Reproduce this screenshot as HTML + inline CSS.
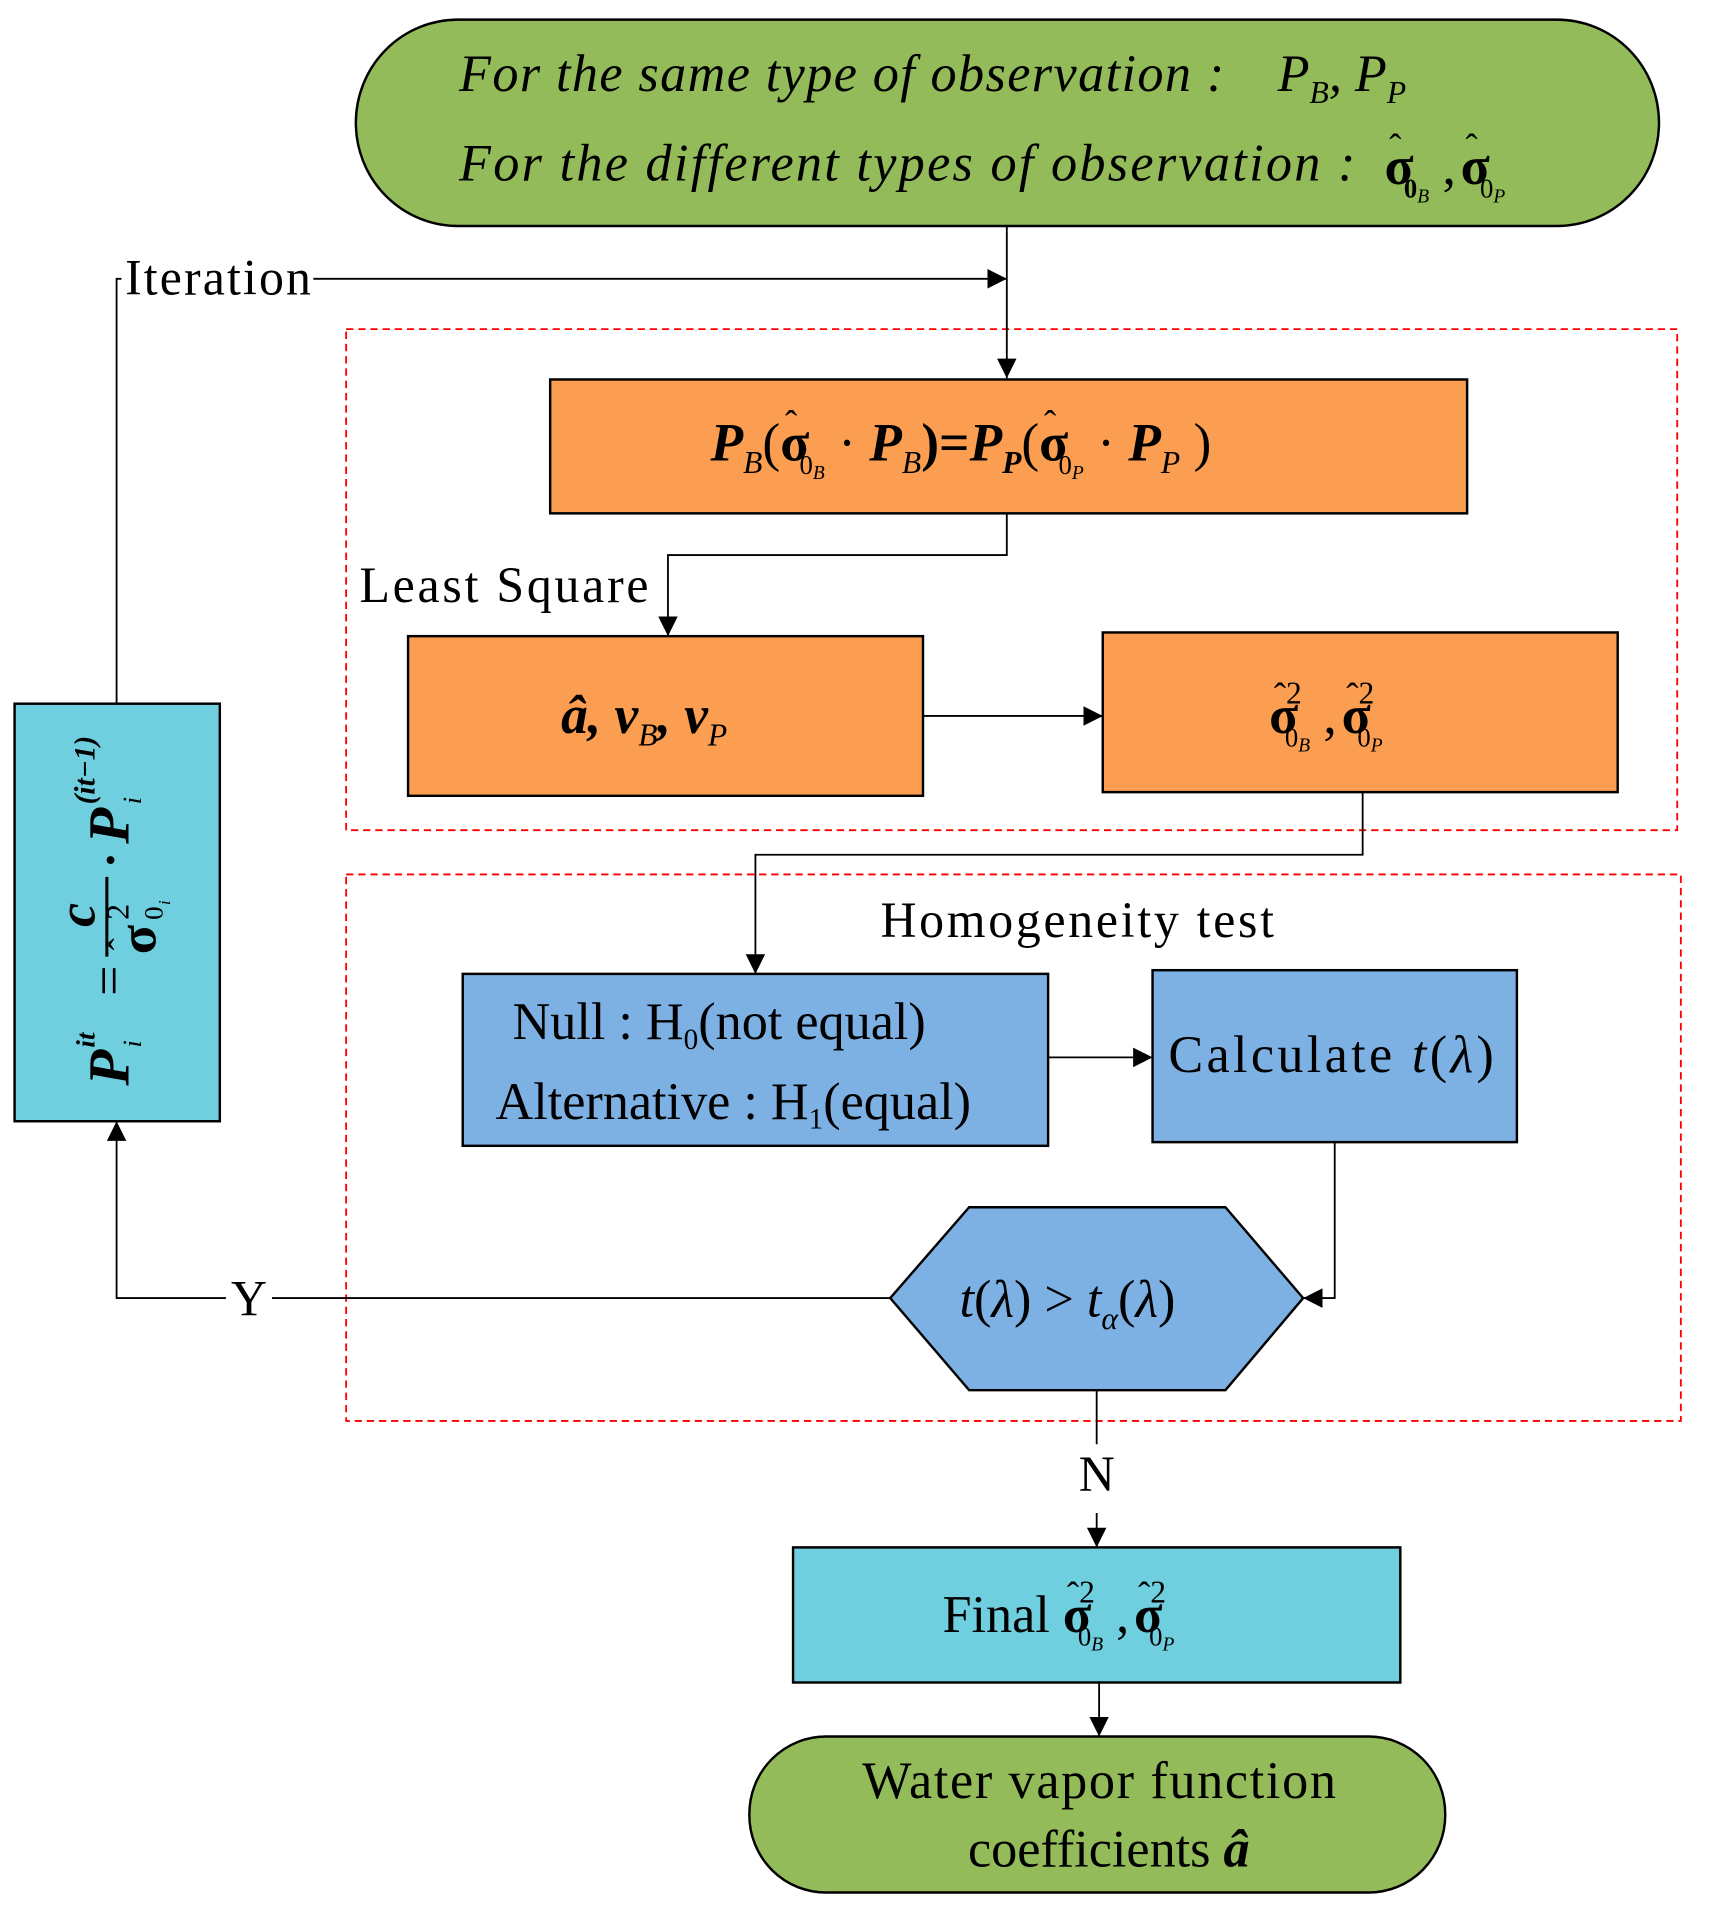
<!DOCTYPE html>
<html><head><meta charset="utf-8"><style>
html,body{margin:0;padding:0;background:#fff}
svg{display:block}
text{font-family:"Liberation Serif","DejaVu Serif",serif;fill:#000}
.it{font-style:italic}.b{font-weight:bold}
</style></head><body>
<svg width="1710" height="1906" viewBox="0 0 1408 1552" preserveAspectRatio="none" xmlns="http://www.w3.org/2000/svg">
<defs>
<marker id="a" viewBox="0 0 10 10" refX="10" refY="5" markerWidth="16" markerHeight="16" markerUnits="userSpaceOnUse" orient="auto"><path d="M0,0L10,5L0,10z" fill="#000"/></marker>
</defs>
<rect x="285" y="268" width="1096" height="408" fill="none" stroke="#f00" stroke-width="1.5" stroke-dasharray="6,4"/>
<rect x="285" y="712" width="1099" height="445" fill="none" stroke="#f00" stroke-width="1.5" stroke-dasharray="6,4"/>

<rect x="293" y="16" width="1073" height="168" rx="84" fill="#93bb59" stroke="#000" stroke-width="2"/>
<text class="it" x="378" y="74" font-size="43" textLength="630">For the same type of observation :</text>
<text class="it" x="1052" y="74" font-size="43">P<tspan font-size="26" dy="10">B</tspan><tspan dy="-10">, P</tspan><tspan font-size="26" dy="10">P</tspan></text>
<text class="it" x="378" y="147" font-size="43" textLength="738">For the different types of observation :</text>
<text x="1140" y="150" font-size="44" font-weight="bold">σ<tspan dx="-20" dy="-20" font-size="30" font-weight="normal">ˆ</tspan><tspan font-size="22" dx="2" dy="31">0</tspan><tspan font-size="16" font-style="italic" font-weight="normal" dy="4">B</tspan><tspan font-weight="normal" dy="-15"> ,</tspan><tspan dx="4">σ</tspan><tspan dx="-20" dy="-20" font-size="30" font-weight="normal">ˆ</tspan><tspan font-size="22" font-weight="normal" dx="2" dy="31">0</tspan><tspan font-size="16" font-style="italic" font-weight="normal" dy="4">P</tspan></text>

<line x1="829" y1="184" x2="829" y2="308" stroke="#000" stroke-width="1.5" marker-end="url(#a)"/>
<polyline points="100,227 96,227 96,573" fill="none" stroke="#000" stroke-width="1.5"/>
<line x1="258" y1="227" x2="829" y2="227" stroke="#000" stroke-width="1.5" marker-end="url(#a)"/>
<text x="103" y="240" font-size="41" textLength="153">Iteration</text>

<rect x="453" y="309" width="755" height="109" fill="#fb9e51" stroke="#000" stroke-width="2"/>
<text class="it b" x="585" y="375" font-size="44">P<tspan font-size="26" font-weight="normal" dy="10">B</tspan><tspan font-style="normal" font-weight="normal" dy="-10">(</tspan><tspan font-style="normal">σ</tspan><tspan dx="-20" dy="-20" font-size="30" font-style="normal" font-weight="normal">ˆ</tspan><tspan font-size="22" font-style="normal" font-weight="normal" dx="2" dy="31">0</tspan><tspan font-size="16" font-weight="normal" dy="4">B</tspan><tspan font-weight="normal" font-style="normal" dy="-15">  · </tspan>P<tspan font-size="26" font-weight="normal" dy="10">B</tspan><tspan font-style="normal" dy="-10">)=</tspan>P<tspan font-size="26" dy="10">P</tspan><tspan font-style="normal" font-weight="normal" dy="-10">(</tspan><tspan font-style="normal">σ</tspan><tspan dx="-20" dy="-20" font-size="30" font-style="normal" font-weight="normal">ˆ</tspan><tspan font-size="22" font-style="normal" font-weight="normal" dx="2" dy="31">0</tspan><tspan font-size="16" font-weight="normal" dy="4">P</tspan><tspan font-weight="normal" font-style="normal" dy="-15">  · </tspan>P<tspan font-size="26" font-weight="normal" dy="10">P</tspan><tspan font-style="normal" font-weight="normal" dy="-10"> )</tspan></text>

<polyline points="829,418 829,452 550,452 550,518" fill="none" stroke="#000" stroke-width="1.5" marker-end="url(#a)"/>
<text x="296" y="490" font-size="41" textLength="238">Least Square</text>

<rect x="336" y="518" width="424" height="130" fill="#fb9e51" stroke="#000" stroke-width="2"/>
<text class="it b" x="462" y="597" font-size="44">â, v<tspan font-size="26" font-weight="normal" dy="10">B</tspan><tspan dy="-10">, v</tspan><tspan font-size="26" font-weight="normal" dy="10">P</tspan></text>
<rect x="908" y="515" width="424" height="130" fill="#fb9e51" stroke="#000" stroke-width="2"/>
<text x="1045" y="597" font-size="44" font-weight="bold">σ<tspan dx="-20" dy="-20" font-size="30" font-weight="normal">ˆ</tspan><tspan font-size="26" font-weight="normal" dx="0" dy="-4">2</tspan><tspan font-size="22" font-weight="normal" dx="-14" dy="35">0</tspan><tspan font-size="16" font-style="italic" font-weight="normal" dy="4">B</tspan><tspan font-weight="normal" dy="-15"> ,</tspan><tspan dx="4">σ</tspan><tspan dx="-20" dy="-20" font-size="30" font-weight="normal">ˆ</tspan><tspan font-size="26" font-weight="normal" dy="-4">2</tspan><tspan font-size="22" font-weight="normal" dx="-14" dy="35">0</tspan><tspan font-size="16" font-style="italic" font-weight="normal" dy="4">P</tspan></text>
<line x1="760" y1="583" x2="908" y2="583" stroke="#000" stroke-width="1.5" marker-end="url(#a)"/>

<polyline points="1122,645 1122,696 622,696 622,793" fill="none" stroke="#000" stroke-width="1.5" marker-end="url(#a)"/>
<text x="887" y="763" font-size="41" text-anchor="middle" textLength="324">Homogeneity test</text>

<rect x="381" y="793" width="482" height="140" fill="#7eb1e3" stroke="#000" stroke-width="2"/>
<text x="422" y="846" font-size="43">Null : H<tspan font-size="24" dy="8">0</tspan><tspan dy="-8">(not equal)</tspan></text>
<text x="408" y="911" font-size="43">Alternative : H<tspan font-size="24" dy="8">1</tspan><tspan dy="-8">(equal)</tspan></text>
<line x1="863" y1="861" x2="949" y2="861" stroke="#000" stroke-width="1.5" marker-end="url(#a)"/>
<rect x="949" y="790" width="300" height="140" fill="#7eb1e3" stroke="#000" stroke-width="2"/>
<text x="962" y="873" font-size="43" textLength="268">Calculate <tspan font-style="italic">t</tspan>(<tspan font-style="italic">λ</tspan>)</text>

<polyline points="1099,930 1099,1057 1073,1057" fill="none" stroke="#000" stroke-width="1.5" marker-end="url(#a)"/>
<polygon points="733,1057 798,983 1009,983 1073,1057 1009,1132 798,1132" fill="#7eb1e3" stroke="#000" stroke-width="2"/>
<text x="790" y="1072" font-size="43"><tspan font-style="italic">t</tspan>(<tspan font-style="italic">λ</tspan>) &gt; <tspan font-style="italic">t</tspan><tspan font-size="26" font-style="italic" dy="10">α</tspan><tspan dy="-10">(</tspan><tspan font-style="italic">λ</tspan>)</text>

<polyline points="733,1057 96,1057 96,913" fill="none" stroke="#000" stroke-width="1.5" marker-end="url(#a)"/>
<rect x="186" y="1036" width="38" height="40" fill="#fff"/>
<text x="205" y="1071" font-size="41" text-anchor="middle">Y</text>

<rect x="12" y="573" width="169" height="340" fill="#70cfdf" stroke="#000" stroke-width="2"/>
<g transform="translate(96,743) rotate(-90)">
<text x="-141" y="10" font-size="48" font-weight="bold" font-style="italic">P</text>
<text x="-110" y="-18" font-size="22" font-weight="bold" font-style="italic">it</text>
<text x="-110" y="20" font-size="22" font-style="italic">i</text>
<text x="-68" y="8" font-size="44">=</text>
<text x="-2" y="-18" font-size="44" font-style="italic" font-weight="bold" text-anchor="middle">c</text>
<line x1="-36" y1="-8" x2="29" y2="-8" stroke="#000" stroke-width="2.5"/>
<text x="-34" y="32" font-size="44" font-weight="bold">σ</text>
<text x="-31" y="14" font-size="30">ˆ</text>
<text x="-6" y="10" font-size="26">2</text>
<text x="-6" y="38" font-size="22">0</text>
<text x="6" y="44" font-size="14" font-style="italic">i</text>
<text x="36" y="8" font-size="40" font-weight="bold">·</text>
<text x="56" y="10" font-size="48" font-weight="bold" font-style="italic">P</text>
<text x="88" y="-18" font-size="24" font-weight="bold" font-style="italic">(it−1)</text>
<text x="88" y="20" font-size="22" font-style="italic">i</text>
</g>

<line x1="903" y1="1132" x2="903" y2="1260" stroke="#000" stroke-width="1.5" marker-end="url(#a)"/>
<rect x="884" y="1176" width="38" height="56" fill="#fff"/>
<text x="903" y="1214" font-size="41" text-anchor="middle">N</text>

<rect x="653" y="1260" width="500" height="110" fill="#70cfdf" stroke="#000" stroke-width="2"/>
<text x="776" y="1329" font-size="43">Final <tspan font-weight="bold">σ</tspan><tspan dx="-20" dy="-20" font-size="30">ˆ</tspan><tspan font-size="26" dy="-4">2</tspan><tspan font-size="22" dx="-14" dy="35">0</tspan><tspan font-size="16" font-style="italic" dy="4">B</tspan><tspan dy="-15"> ,</tspan><tspan font-weight="bold" dx="4">σ</tspan><tspan dx="-20" dy="-20" font-size="30">ˆ</tspan><tspan font-size="26" dy="-4">2</tspan><tspan font-size="22" dx="-14" dy="35">0</tspan><tspan font-size="16" font-style="italic" dy="4">P</tspan></text>

<line x1="905" y1="1370" x2="905" y2="1414" stroke="#000" stroke-width="1.5" marker-end="url(#a)"/>
<rect x="617" y="1414" width="573" height="127" rx="63" fill="#93bb59" stroke="#000" stroke-width="2"/>
<text x="905" y="1464" font-size="43" text-anchor="middle" textLength="390">Water vapor function</text>
<text x="797" y="1520" font-size="43">coefficients <tspan font-weight="bold" font-style="italic">â</tspan></text>
</svg>
</body></html>
